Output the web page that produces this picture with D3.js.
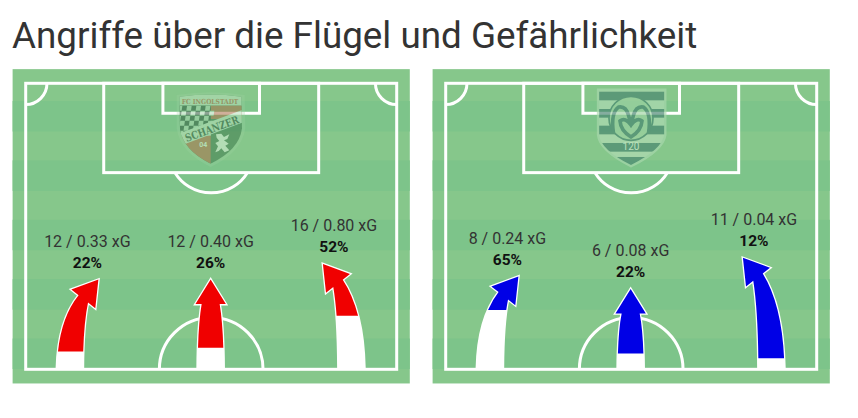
<!DOCTYPE html>
<html>
<head>
<meta charset="utf-8">
<style>
    html, body { margin: 0; padding: 0; background: #fff; }
    svg { display: block; font-family: Roboto, sans-serif; }
</style>
</head>
<body>
<div id="container"></div>
<script src="https://cdn.jsdelivr.net/npm/d3@7"></script>
<script>
    // Data
    let title = "Angriffe über die Flügel und Gefährlichkeit";
    let teamColors = ["#f00000", "#0000e6"];
    let attacks = [[12, 12, 16], [8, 6, 11]];
    let xgValues = [["0.33", "0.40", "0.80"], ["0.24", "0.08", "0.04"]];
    let percents = [[22, 26, 52], [65, 22, 12]];
    let lanes = [-1, 0, 1];

    // Set up SVG
    let width = 858, height = 418;
    let svg = d3.select("#container").append("svg")
        .attr("width", width)
        .attr("height", height);

    svg.append("text")
        .attr("x", 12)
        .attr("y", 48)
        .attr("font-size", 36.8)
        .attr("fill", "#333")
        .text(title);

    // Pitch scales, in metres
    let x = d3.scaleLinear().domain([0, 68]).range([25.7, 396.7]);
    let y = d3.scaleLinear().domain([0, 52.5]).range([83.3, 369.3]);
    let laneX = d3.scalePoint().domain(lanes).range([8.1, 59.7]);
    // arrow height follows the lane's share of the team's attacks
    let arrowHeight = d3.scaleLinear().domain([0.24, 0.44]).range([15.2, 20.9]);

    let lineColor = "#fff";
    let leanAngle = 38 * Math.PI / 180;

    function drawPitch(g) {
        g.append("rect")
            .attr("x", x(-2.4)).attr("y", y(-2.6))
            .attr("width", x(70.4) - x(-2.4)).attr("height", y(55.1) - y(-2.6))
            .attr("fill", "#86c78b");

        g.selectAll("rect.stripe")
            .data(d3.range(3.25, 52, 10.9))
            .enter()
            .append("rect")
            .attr("class", "stripe")
            .attr("x", x(-2.4))
            .attr("y", (d) => y(d))
            .attr("width", x(70.4) - x(-2.4))
            .attr("height", y(5.6) - y(0))
            .attr("fill", "#7dc48a");

        let lines = g.append("g")
            .attr("fill", "none")
            .attr("stroke", lineColor)
            .attr("stroke-width", 3);

        lines.append("rect")
            .attr("x", x(0)).attr("y", y(0))
            .attr("width", x(68) - x(0)).attr("height", y(52.5) - y(0));
        lines.append("rect")
            .attr("x", x(14.3)).attr("y", y(0))
            .attr("width", x(53.7) - x(14.3)).attr("height", y(16.4) - y(0));
        lines.append("rect")
            .attr("x", x(25.15)).attr("y", y(0))
            .attr("width", x(42.85) - x(25.15)).attr("height", y(5.5) - y(0));

        let r = (m) => x(m) - x(0);
        // penalty arc, only the part outside the box
        let dAngle = Math.acos(4.1 / 7.8);
        lines.append("path")
            .attr("transform", `translate(${x(34)}, ${y(12.3)})`)
            .attr("d", d3.arc()({ innerRadius: r(7.8), outerRadius: r(7.8), startAngle: Math.PI - dAngle, endAngle: Math.PI + dAngle }));
        // centre circle
        lines.append("path")
            .attr("transform", `translate(${x(34)}, ${y(52.5)})`)
            .attr("d", d3.arc()({ innerRadius: r(9.5), outerRadius: r(9.5), startAngle: -Math.PI / 2, endAngle: Math.PI / 2 }));
        // corners
        lines.append("path")
            .attr("transform", `translate(${x(0)}, ${y(0)})`)
            .attr("d", d3.arc()({ innerRadius: r(3.9), outerRadius: r(3.9), startAngle: Math.PI / 2, endAngle: Math.PI }));
        lines.append("path")
            .attr("transform", `translate(${x(68)}, ${y(0)})`)
            .attr("d", d3.arc()({ innerRadius: r(3.9), outerRadius: r(3.9), startAngle: Math.PI, endAngle: Math.PI * 1.5 }));
    }

    // Outline of a curved arrow from the goal line up to its tip
    function arrowPath(baseX, baseY, tipX, tipY, lean) {
        let dirX = lean * Math.sin(leanAngle), dirY = -Math.cos(leanAngle);
        if (lean === 0) { dirX = 0; dirY = -1; }
        let perpX = -dirY, perpY = dirX;
        let midX = tipX - dirX * 24.5, midY = tipY - dirY * 24.5;
        let barb = 15.2, neck = lean === 0 ? 9 : 6, base = 13;
        let pt = (h) => [midX + perpX * h, midY + perpY * h];
        let [la, lb] = pt(-neck), [ra, rb] = pt(neck);
        let [ba, bb] = pt(-barb), [ca, cb] = pt(barb);
        let p = d3.path();
        p.moveTo(baseX - base, baseY);
        p.quadraticCurveTo(baseX - base + (la - baseX + base) * 0.05, baseY - (baseY - lb) * 0.65, la, lb);
        p.lineTo(ba, bb);
        p.lineTo(tipX, tipY);
        p.lineTo(ca, cb);
        p.lineTo(ra, rb);
        p.quadraticCurveTo(baseX + base + (ra - baseX - base) * 0.05, baseY - (baseY - rb) * 0.65, baseX + base, baseY);
        p.closePath();
        return p.toString();
    }

    function drawArrows(g, team) {
        let total = d3.sum(attacks[team]);
        lanes.forEach((lean, i) => {
            let h = arrowHeight(attacks[team][i] / total);
            let baseX = x(laneX(lean));
            let baseY = y(52.5) - 1;
            let tipX = baseX - lean * 30;
            let tipY = y(52.5 - h);
            // the arrow's tip sits a little inside its white outline
            let innerX = tipX + lean * 1.5, innerY = tipY + 2.4;
            let d = arrowPath(baseX, baseY, innerX, innerY, -lean);

            g.append("path")
                .attr("d", d)
                .attr("fill", "#fff")
                .attr("stroke", "#fff")
                .attr("stroke-width", 2.6)
                .attr("stroke-linejoin", "miter");

            // coloured part stops where the white share begins
            let clipId = `clip-${team}-${i}`;
            let fillY = y(52.5) + 2.5 - (y(52.5) - tipY) * percents[team][i] / 100;
            g.append("clipPath").attr("id", clipId)
                .append("rect")
                .attr("x", baseX - 60).attr("y", tipY - 10)
                .attr("width", 120).attr("height", fillY - tipY + 10);
            g.append("path")
                .attr("d", d)
                .attr("fill", teamColors[team])
                .attr("clip-path", `url(#${clipId})`);

            let labelX = baseX - lean * 17.5;
            g.append("text")
                .attr("x", labelX).attr("y", tipY - 30.5)
                .attr("text-anchor", "middle")
                .attr("font-size", 16)
                .attr("fill", "#333")
                .text(`${attacks[team][i]} / ${xgValues[team][i]} xG`);
            g.append("text")
                .attr("x", labelX).attr("y", tipY - 9.5)
                .attr("text-anchor", "middle")
                .attr("font-size", 15.5)
                .attr("font-weight", 700)
                .attr("fill", "#111")
                .text(`${percents[team][i]}%`);
        });
    }

    // Crests, drawn in 3x zoom units
    function drawIngolstadt(g) {
        let c = g.append("g")
            .attr("transform", "translate(150, 75) scale(0.3333)")
            .attr("opacity", 0.55);
        let shield = "M88,65 Q182,52 274,65 L276,160 Q268,225 182,266 Q98,225 90,160 Z";
        c.append("path").attr("d", "M80,60 Q182,44 284,60 L286,160 Q276,232 182,276 Q90,232 80,160 Z")
            .attr("fill", "#9fd3a3").attr("opacity", 0.5);
        c.append("clipPath").attr("id", "ing-clip").append("path").attr("d", shield);
        let inner = c.append("g").attr("clip-path", "url(#ing-clip)");
        inner.append("rect").attr("x", 80).attr("y", 50).attr("width", 210).attr("height", 225).attr("fill", "#3f7a4d");
        inner.append("rect").attr("x", 80).attr("y", 50).attr("width", 210).attr("height", 42).attr("fill", "#b9e0bb");
        inner.append("rect").attr("x", 182).attr("y", 92).attr("width", 100).attr("height", 40).attr("fill", "#ab6f48");
        inner.append("path").attr("d", "M80,190 L182,150 L182,275 L80,275 Z").attr("fill", "#ab6f48");
        // bavarian checks
        let checks = d3.cross(d3.range(0, 8), d3.range(0, 6)).filter((d) => (d[0] + d[1]) % 2 === 0);
        inner.append("rect").attr("x", 84).attr("y", 92).attr("width", 98).attr("height", 85).attr("fill", "#2f5a3c");
        inner.selectAll("rect.check")
            .data(checks)
            .enter()
            .append("rect")
            .attr("class", "check")
            .attr("x", (d) => 96 + d[0] * 14)
            .attr("y", (d) => 92 + d[1] * 15)
            .attr("width", 14).attr("height", 15)
            .attr("transform", "skewX(-8)")
            .attr("fill", "#a9d6ae");
        // sash
        inner.append("path").attr("d", "M80,178 L290,100 L290,138 L80,216 Z").attr("fill", "#b9e0bb");
        c.append("text")
            .attr("x", 180).attr("y", 86)
            .attr("text-anchor", "middle")
            .attr("font-size", 21).attr("font-weight", 700)
            .attr("font-family", "'DejaVu Serif', serif")
            .attr("textLength", 170).attr("lengthAdjust", "spacingAndGlyphs")
            .attr("fill", "#ab6f48")
            .text("FC INGOLSTADT");
        c.append("text")
            .attr("transform", "translate(190, 172) rotate(-20)")
            .attr("text-anchor", "middle")
            .attr("font-size", 32).attr("font-weight", 700)
            .attr("font-family", "'DejaVu Serif', serif")
            .attr("textLength", 170).attr("lengthAdjust", "spacingAndGlyphs")
            .attr("fill", "#2f5a3c")
            .text("SCHANZER");
        c.append("text")
            .attr("x", 160).attr("y", 216)
            .attr("text-anchor", "middle")
            .attr("font-size", 21).attr("font-weight", 700)
            .attr("fill", "#d8efd8")
            .text("04");
        // lion
        c.append("path")
            .attr("d", "M198,178 L214,176 L222,186 L238,178 L232,192 L222,196 L236,206 L226,212 L238,226 L224,232 L214,220 L206,228 L196,232 L204,214 L196,204 L208,198 L200,188 Z")
            .attr("fill", "#d8efd8");
    }

    function drawDuisburg(g) {
        let c = g.append("g")
            .attr("transform", "translate(570, 75) scale(0.3333)")
            .attr("opacity", 0.66);
        let shield = "M84,44 L286,44 L286,180 Q280,226 183,274 Q88,226 84,180 Z";
        c.append("clipPath").attr("id", "msv-clip").append("path").attr("d", shield);
        let inner = c.append("g").attr("clip-path", "url(#msv-clip)");
        inner.append("rect").attr("x", 80).attr("y", 40).attr("width", 210).attr("height", 240).attr("fill", "#b5ddb7");
        inner.selectAll("rect.band")
            .data([50, 102, 152, 204, 246])
            .enter()
            .append("rect")
            .attr("class", "band")
            .attr("x", 80).attr("y", (d) => d)
            .attr("width", 210).attr("height", 26)
            .attr("fill", "#47846f");
        c.append("path").attr("d", shield).attr("fill", "none").attr("stroke", "#a9d9ae").attr("stroke-width", 7);
        c.append("circle").attr("cx", 183).attr("cy", 130).attr("r", 66).attr("fill", "#9fd3a3").attr("stroke", "#47846f").attr("stroke-width", 5);
        // monogram
        c.append("path")
            .attr("d", "M130,172 Q122,112 146,96 Q168,92 176,122 L183,150 L190,122 Q198,92 220,96 Q244,112 236,172 M150,138 Q152,168 183,186 Q214,168 216,138 Q200,126 183,150 Q166,126 150,138 Z")
            .attr("fill", "none")
            .attr("stroke", "#47846f")
            .attr("stroke-width", 11);
        c.append("text")
            .attr("x", 183).attr("y", 226)
            .attr("text-anchor", "middle")
            .attr("font-size", 30)
            .attr("fill", "#d8efd8")
            .text("120");
    }

    // Two panels
    let panelOffsets = [0, 420];
    panelOffsets.forEach((offset, team) => {
        let g = svg.append("g").attr("transform", `translate(${offset}, 0)`);
        drawPitch(g);
        let crest = svg.append("g");
        if (team === 0) drawIngolstadt(crest); else drawDuisburg(crest);
        g = svg.append("g").attr("transform", `translate(${offset}, 0)`);
        drawArrows(g, team);
    });
</script>
</body>
</html>
